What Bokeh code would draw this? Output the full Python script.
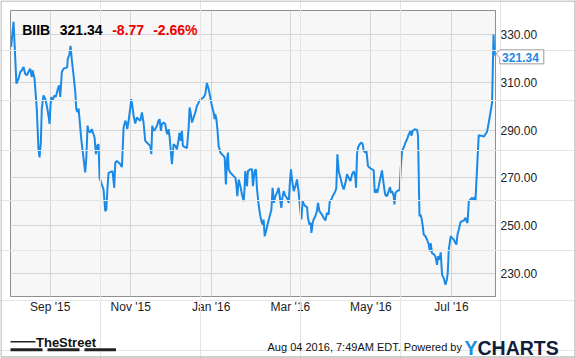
import pandas as pd
from bokeh.plotting import figure
from bokeh.models import (ColumnDataSource, FixedTicker, NumeralTickFormatter,
                          DatetimeTickFormatter, Range1d)
from bokeh.core.properties import value
from bokeh.embed import file_html
from bokeh.resources import INLINE

# ---------------- data ----------------
TICKER = "BIIB"
LAST = "321.34"
CHANGE = "-8.77"
CHANGE_PCT = "-2.66%"
STAMP = "Aug 04 2016, 7:49AM EDT.  Powered by"
DAY0 = "2015-09-01"   # day offsets below are counted from this date

days = [-29.6, -27.8, -25.6, -24.0, -22.7, -21.5, -20.2, -19.0, -17.7, -16.5,
        -15.2, -14.0, -13.4, -11.9, -10.2, -8.9, -8.1, -7.1, -6.4, -5.1,
        -3.8, -2.6, -1.3, -0.5, 0.2, 0.8, 1.7, 3.3, 4.2, 5.8,
        6.8, 7.6, 8.8, 10.1, 11.8, 12.9, 13.3, 14.4, 15.4, 16.4,
        17.7, 19.0, 19.7, 20.5, 21.5, 22.2, 23.5, 24.7, 26.5, 27.3,
        28.3, 29.0,
        30.3, 31.5, 33.6, 34.6, 35.6, 36.6, 37.4, 39.1, 40.4, 41.7,
        42.5, 43.4, 44.2, 47.2, 48.5, 49.3, 50.5, 53.1, 54.3, 55.6,
        56.9, 57.6, 58.4, 59.4, 60.7, 61.4, 62.4, 63.2, 64.4, 65.7,
        66.9, 68.2, 69.5, 70.7, 72.0, 74.5, 75.8, 76.6, 77.3, 78.3,
        79.6, 80.8, 82.1, 82.9, 83.9, 84.6, 85.9, 87.2, 88.0, 88.7,
        89.7, 90.5, 92.2,
        93.5, 94.8, 96.0, 97.3, 98.0, 98.8, 99.8, 100.5, 101.8, 103.6,
        104.9, 105.6, 106.6, 107.4, 108.7, 109.9, 111.2, 111.9, 113.0, 114.2,
        116.2, 117.5, 118.7, 120.0, 121.3, 122.5, 123.8, 124.6, 125.1, 125.9,
        126.8, 127.6, 128.9, 130.1, 131.4, 132.2, 133.1, 133.9, 134.7, 135.2,
        136.5, 137.7, 139.0, 140.3, 141.0, 141.8, 142.8, 144.1, 145.3, 146.6,
        147.3, 147.8, 149.1, 149.8, 151.6, 152.9,
        153.6, 154.9, 155.9, 156.6, 157.9, 159.2, 160.4, 161.2, 161.7, 162.5,
        163.5, 165.0, 166.0, 167.6, 168.5, 169.5, 170.6, 171.8, 173.1, 174.4,
        175.1, 176.1, 176.9, 178.2, 179.4, 180.7, 181.7, 182.4, 183.2, 184.5,
        185.8, 187.0, 188.3, 189.6, 190.3, 191.3, 192.3, 193.3, 194.6, 195.3,
        196.4, 197.4, 197.9, 198.9, 199.6, 200.9, 202.1, 202.9, 204.0, 205.5,
        207.2, 208.5, 209.7, 211.0, 211.8, 213.1, 214.0,
        214.8, 216.1, 216.8, 217.6, 218.6, 219.9, 221.1, 222.4, 223.7, 224.9,
        226.2, 227.5, 228.7, 230.0, 231.3, 231.7, 232.5, 233.2, 234.5, 235.8,
        236.8, 237.5, 238.8, 239.6, 240.8, 242.1, 243.8, 245.1, 245.9, 246.9,
        247.9, 248.9, 250.2, 251.4, 252.2, 253.2, 254.0, 255.2, 256.5, 257.5,
        258.2, 259.0, 260.3, 260.8, 261.6, 262.8, 264.1, 264.8, 265.6, 266.6,
        267.9, 269.2, 270.4, 271.7, 273.0, 273.7, 274.7,
        276.2, 278.0, 278.7, 279.8, 280.5, 281.3, 282.3, 283.0, 284.3,
        285.5, 286.8, 287.6, 288.3, 289.3, 290.6, 291.9, 293.1, 293.9, 294.9,
        295.9, 296.9, 298.2, 299.5, 300.5, 301.2, 302.0, 303.5, 304.5, 305.8,
        307.1, 307.8, 308.6, 309.6, 310.9, 312.1, 313.4, 314.7, 315.4, 316.2,
        317.2, 318.4, 319.7, 320.4, 321.7, 322.2, 324.7, 326.0,
        327.2, 328.5, 329.8, 331.0, 332.3, 333.6, 334.8, 335.9, 336.6]

prices = [324.9, 335.5, 309.5, 311.6, 314.4, 315.1, 316.5, 313.7, 313.0, 314.4,
          315.8, 312.3, 315.1, 311.6, 299.0, 282.1, 278.6, 284.9, 299.0, 304.6,
          303.2, 300.3, 296.1, 292.6, 300.3, 303.9, 302.5, 304.6, 303.9, 307.4,
          308.8, 303.9, 314.4, 315.8, 316.1, 316.5, 320.0, 321.4, 325.4, 319.3,
          313.0, 306.0, 299.0, 297.6, 299.0, 294.7, 286.3, 280.7, 272.3, 277.9,
          291.9, 289.8,
          289.0, 290.4, 286.9, 279.9, 283.4, 284.1, 270.0, 267.2, 265.1, 256.0,
          256.7, 265.8, 272.1, 272.8, 265.8, 276.3, 277.1, 275.7, 274.5, 291.1,
          293.9, 293.2, 290.4, 293.9, 299.5, 303.0, 299.5, 296.0, 292.8, 295.3,
          294.6, 293.9, 297.4, 293.2, 285.5, 284.1, 283.4, 279.9, 291.8, 289.7,
          290.4, 291.8, 293.9, 294.6, 289.7, 292.5, 293.2, 292.5, 289.7, 288.3,
          290.4, 286.9, 275.7,
          284.1, 283.4, 282.0, 286.2, 289.0, 285.5, 289.7, 283.4, 283.0, 282.4,
          291.1, 299.5, 296.7, 293.2, 295.3, 297.4, 300.2, 300.9, 302.3, 303.0,
          303.7, 305.1, 309.8, 307.3, 303.7, 300.2, 297.4, 294.6, 296.7, 294.6,
          289.7, 283.4, 280.6, 279.9, 279.2, 278.4, 267.2, 277.1, 280.6, 273.6,
          272.1, 271.5, 270.7, 270.0, 267.2, 262.3, 269.3, 266.5, 263.0, 260.2,
          265.8, 272.8, 266.5, 272.8, 273.6, 273.6,
          266.5, 272.8, 273.6, 265.8, 258.8, 253.9, 251.1, 250.4, 252.5, 245.5,
          247.6, 251.1, 253.2, 256.7, 265.8, 259.5, 262.3, 263.7, 265.8, 260.2,
          257.4, 262.3, 264.4, 262.3, 261.6, 259.5, 268.6, 273.6, 269.3, 264.4,
          266.5, 269.3, 263.7, 256.0, 252.5, 260.2, 258.8, 258.1, 257.7, 253.2,
          250.4, 251.1, 246.9, 251.1, 252.5, 253.9, 256.0, 259.5, 256.0, 254.9,
          253.2, 252.1, 255.3, 254.6, 260.2, 260.9, 262.3,
          263.0, 264.4, 265.8, 279.9, 272.8, 270.0, 267.2, 265.1, 267.9, 271.5,
          270.0, 268.6, 271.5, 272.8, 270.0, 265.8, 279.9, 282.7, 284.1, 284.8,
          284.1, 281.3, 280.6, 281.3, 274.9, 274.2, 273.6, 273.1, 263.7, 265.1,
          263.7, 266.5, 270.0, 273.1, 269.3, 265.1, 262.7, 262.3, 264.4, 266.1,
          263.7, 264.4, 262.3, 258.8, 263.7, 264.4, 264.7, 265.1, 274.2, 281.3,
          282.7, 284.8, 286.2, 288.3, 289.7, 287.6, 289.7,
          290.4, 290.1, 287.6, 253.9, 254.6, 253.2, 249.7, 246.2, 245.5,
          244.1, 242.0, 239.1, 242.6, 238.4, 238.0, 237.0, 233.5, 237.0, 235.7,
          238.7, 229.3, 227.9, 225.1, 227.2, 230.0, 239.9, 245.5, 244.8, 244.1,
          242.6, 242.0, 246.2, 248.3, 251.4, 251.8, 252.1, 253.2, 251.8, 251.1,
          260.2, 260.9, 261.6, 260.5, 262.0, 260.2, 287.9, 287.6,
          287.6, 287.3, 288.3, 289.3, 293.2, 297.4, 301.6, 330.11, 321.34]

y_ticks = [230, 250, 270, 290, 310, 330]
x_tick_dates = ["2015-09-01", "2015-11-01", "2016-01-01",
                "2016-03-01", "2016-05-01", "2016-07-01"]
x_tick_labels = ["Sep '15", "Nov '15", "Jan '16", "Mar '16", "May '16", "Jul '16"]

# ---------------- layout constants ----------------
W, H = 575, 358
ML, MT, MR, MB = 10, 10, 80, 62
Y0, Y1 = 220.2, 340.2
FONT = "Liberation Sans"
GRAY = "#8f8f8f"
BLUE = "#1b8ae6"

# ---------------- main chart ----------------
t0 = pd.Timestamp(DAY0)
dates = [t0 + pd.Timedelta(days=d) for d in days]
src = ColumnDataSource(dict(date=dates, price=prices))

p = figure(width=W, height=H, x_axis_type="datetime", y_axis_location="right",
           output_backend="svg", toolbar_location=None,
           x_range=Range1d(t0 - pd.Timedelta(days=30.1), t0 + pd.Timedelta(days=337.4)),
           y_range=Range1d(Y0, Y1),
           min_border_left=ML, min_border_top=MT, min_border_right=MR, min_border_bottom=MB)
p.background_fill_color = "#f7f7f7"
p.border_fill_color = "white"
p.outline_line_color = GRAY
p.grid.grid_line_color = "#d5d5d5"
p.grid.grid_line_width = 1

p.line("date", "price", source=src, line_color=BLUE, line_width=2)

tick_ms = [pd.Timestamp(d).value / 1e6 for d in x_tick_dates]
xa = p.xaxis[0]
xa.ticker = FixedTicker(ticks=tick_ms)
xa.formatter = DatetimeTickFormatter(days="%b '%y", months="%b '%y", years="%b '%y")
xa.major_label_overrides = {t: lab for t, lab in zip(tick_ms, x_tick_labels)}
ya = p.yaxis[0]
ya.ticker = FixedTicker(ticks=y_ticks)
ya.formatter = NumeralTickFormatter(format="0.00")
for ax, standoff in ((xa, 3), (ya, 5)):
    ax.major_tick_line_color = None
    ax.minor_tick_line_color = None
    ax.major_tick_out = 0
    ax.major_tick_in = 0
    ax.minor_tick_out = 0
    ax.major_label_standoff = standoff
    ax.major_label_text_font = FONT
    ax.major_label_text_font_size = "12px"
    ax.major_label_text_color = "#222222"
xa.axis_line_color = None
ya.axis_line_color = GRAY

# ---------------- overlay for header, price tag and footer ----------------
ov = figure(width=W, height=H, x_range=Range1d(0, W), y_range=Range1d(H, 0),
            x_axis_location=None, y_axis_location=None, toolbar_location=None,
            output_backend="svg", min_border_left=0, min_border_right=0,
            min_border_top=0, min_border_bottom=0, outline_line_color=None,
            background_fill_alpha=0, border_fill_alpha=0)
ov.styles = {"position": "absolute", "top": "0px", "left": "0px"}


def txt(x, y, s, size, color="black", style="bold", font=FONT, baseline="alphabetic"):
    ov.text(x=[x], y=[y], text=[s], text_font=value(font), text_font_size=size,
            text_color=color, text_font_style=style, text_baseline=baseline,
            text_align="left")


# header
txt(21.7, 29.3, TICKER, "14px")
txt(59.3, 29.3, LAST, "14px")
txt(111.7, 29.3, CHANGE, "14px", color="#ee0000")
txt(152.7, 29.3, CHANGE_PCT, "14px", color="#ee0000")

# last-price tag, placed at the last value on the price scale
yv = MT + (Y1 - prices[-1]) / (Y1 - Y0) * (H - MT - MB)
bx0, bx1 = 499.3, 543.3
ov.patch(x=[bx0, bx1, bx1, bx0, bx0, 495.7, bx0],
         y=[yv - 5.6, yv - 5.6, yv + 8.4, yv + 8.4, yv + 2.4, yv - 1.6, yv - 5.6],
         fill_color="white", line_color="#9a9a9a", line_width=1)
txt(501.6, yv + 1.6, LAST, "12px", color=BLUE, baseline="middle")

# footer
ov.line(x=[10, 35], y=[341.3, 341.3], line_color="#222222", line_width=1.5)
txt(35.5, 341.7, "TheStreet", "13px", color="#111111")
ov.quad(left=[10, 47, 84], right=[42, 79, 115.5], top=[347.7] * 3, bottom=[350.7] * 3,
        fill_color="#222222", line_color=None)
txt(267, 346.5, STAMP, "11px", color="#111111", style="normal")
txt(464, 347.5, "Y", "19.5px", color="#1a8fe3")
txt(477, 347.5, "CHARTS", "19.5px", color="#0f2038")

# outer frame of the picture
ov.quad(left=[0.5], right=[W - 0.5], top=[0.5], bottom=[H - 1.5],
        fill_alpha=0, line_color="#a0a0a0", line_width=1)

open("out.html", "w").write(file_html([p, ov], INLINE))
